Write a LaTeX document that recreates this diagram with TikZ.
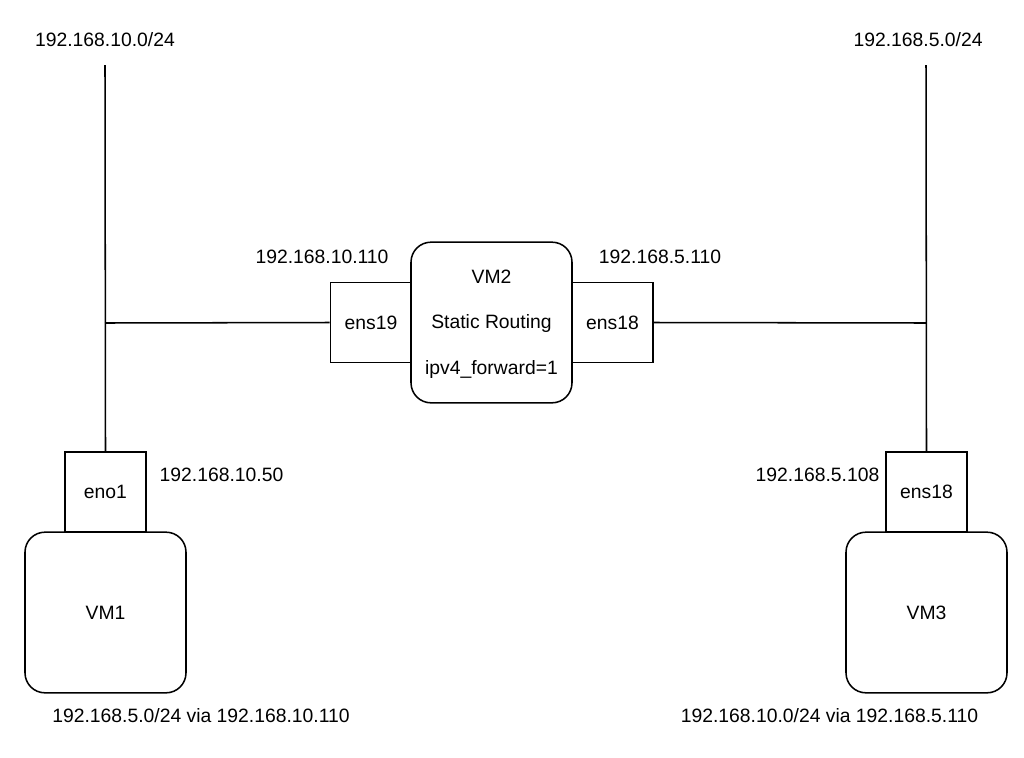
\documentclass[tikz,border=0pt]{standalone}
\usepackage{fontspec}
\setmainfont{Liberation Sans}
\begin{document}
\begin{tikzpicture}[x=0.75pt,y=-0.75pt,
  lbl/.style={inner sep=0pt,text height=10.4pt,text depth=0pt,font=\fontsize{14.5pt}{17pt}\selectfont},
  iface/.style={draw,line width=1.15pt,inner sep=0pt,minimum width=60.75pt,minimum height=60pt,font=\fontsize{14.5pt}{17pt}\selectfont},
  vmbox/.style={draw,fill=white,line width=1.15pt,rounded corners=15pt,inner sep=0pt,minimum width=120.75pt,minimum height=120.5pt,font=\fontsize{14.5pt}{17pt}\selectfont},
  wire/.style={line width=1.15pt}]
\useasboundingbox (0,0) rectangle (1024,757);

% network labels and bus points
\node[lbl] (net10) at (105,40) {192.168.10.0/24};
\node[lbl] (net5) at (918,40) {192.168.5.0/24};
\coordinate (bus10top) at (105,65);
\coordinate (bus5top) at (926,65);
\coordinate (bus10mid) at (105,323);
\coordinate (bus5mid) at (926,323);

% router VM2 with its two interfaces
\node[iface] (ens19) at (371,322.5) {ens19};
\node[iface] (ens18r) at (612.5,322.5) {ens18};
\node[vmbox] (vm2) at (491.5,322.5) {};
\node[lbl] (vm2name) at (491.5,277) {VM2};
\node[lbl] (vm2role) at (491.5,322) {Static Routing};
\node[lbl] (vm2fwd) at (491.5,368) {ipv4\_forward=1};
\node[lbl] (ip10r) at (322,257) {192.168.10.110};
\node[lbl] (ip5r) at (660,257) {192.168.5.110};

% VM1
\node[iface] (eno1) at (105.5,492) {eno1};
\node[vmbox] (vm1) at (105.5,612.5) {VM1};
\node[lbl] (ip10h) at (221.5,475) {192.168.10.50};
\node[lbl] (route1) at (201,716) {192.168.5.0/24 via 192.168.10.110};

% VM3
\node[iface] (ens18h) at (926.5,492) {ens18};
\node[vmbox] (vm3) at (926.5,612.5) {VM3};
\node[lbl] (ip5h) at (817.5,475) {192.168.5.108};
\node[lbl] (route3) at (829.5,716) {192.168.10.0/24 via 192.168.5.110};

% wiring
\draw[wire] (bus10top) -- (eno1.north);
\draw[wire] (bus5top) -- (ens18h.north);
\draw[wire] (bus10mid) -- (ens19.west);
\draw[wire] (ens18r.east) -- (bus5mid);
\end{tikzpicture}
\end{document}
